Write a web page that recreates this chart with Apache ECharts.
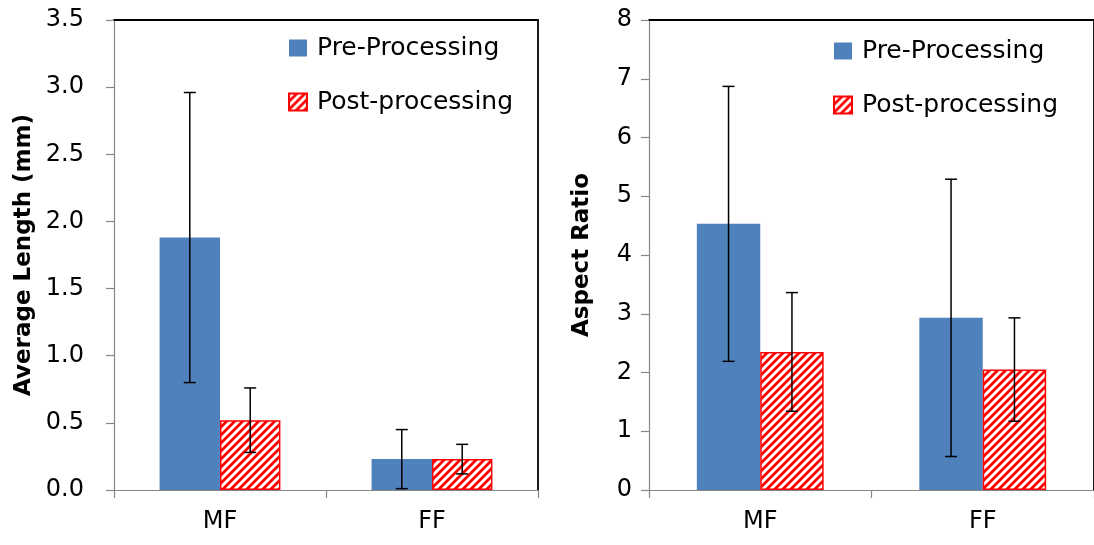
<!DOCTYPE html>
<html>
<head>
<meta charset="utf-8">
<script src="https://cdn.jsdelivr.net/npm/echarts@6/dist/echarts.min.js"></script>
<style>
html,body{margin:0;padding:0;background:#fff;}
#c{width:1094px;height:545px;}
</style>
</head>
<body>
<div id="c"></div>
<script>
// ---- data ----
const categories = ['MF', 'FF'];
const seriesNames = ['Pre-Processing', 'Post-processing'];
const lengthPre = [1.88, 0.23];
const lengthPreErr = [1.08, 0.22];
const lengthPost = [0.52, 0.23];
const lengthPostErr = [0.24, 0.11];
const aspectPre = [4.53, 2.93];
const aspectPreErr = [2.34, 2.36];
const aspectPost = [2.35, 2.05];
const aspectPostErr = [1.01, 0.88];
const lengthTicks = [0, 3.5, 0.5];   // min, max, interval
const aspectTicks = [0, 8, 1];

// ---- styling ----
const FONT = 'DejaVu Sans';
const BLUE = '#4F81BD';
const RED = '#FF0000';
const AXIS = '#868686';
const CAT_GAP = 0.43;

function makeHatch() {
  const s = 8;
  const c = document.createElement('canvas');
  c.width = s; c.height = s;
  const g = c.getContext('2d');
  g.fillStyle = '#fff';
  g.fillRect(0, 0, s, s);
  g.strokeStyle = RED;
  g.lineWidth = 2.7;
  g.beginPath();
  g.moveTo(-s, 2 * s); g.lineTo(2 * s, -s);
  g.moveTo(-s, s); g.lineTo(s, -s);
  g.moveTo(0, 2 * s); g.lineTo(2 * s, 0);
  g.stroke();
  return c;
}
const hatch = { image: makeHatch(), repeat: 'repeat' };

const chart = echarts.init(document.getElementById('c'), null, { renderer: 'canvas' });

function errData(vals, errs) {
  return vals.map((v, i) => [i, v - errs[i], v + errs[i]]);
}

function errSeries(idx, side, vals, errs) {
  return {
    type: 'custom',
    xAxisIndex: idx, yAxisIndex: idx,
    z: 10,
    silent: true,
    data: errData(vals, errs),
    renderItem: function (params, api) {
      const ci = api.value(0);
      const lo = api.coord([ci, api.value(1)]);
      const hi = api.coord([ci, api.value(2)]);
      const cw = api.size([1, 0])[0];
      const bw = cw * (1 - CAT_GAP) / 2;
      const x = lo[0] + side * bw / 2;
      const cap = 6;
      const st = { stroke: '#000', lineWidth: 1.5 };
      return {
        type: 'group',
        children: [
          { type: 'line', shape: { x1: x, y1: hi[1], x2: x, y2: lo[1] }, style: st },
          { type: 'line', shape: { x1: x - cap, y1: hi[1], x2: x + cap, y2: hi[1] }, style: st },
          { type: 'line', shape: { x1: x - cap, y1: lo[1], x2: x + cap, y2: lo[1] }, style: st }
        ]
      };
    }
  };
}

function catAxis(gi) {
  return {
    type: 'category', gridIndex: gi, data: categories,
    axisLine: { show: true, onZero: false, lineStyle: { color: AXIS, width: 1.2 } },
    axisTick: { show: true, length: 8, lineStyle: { color: AXIS, width: 1.2 } },
    axisLabel: { color: '#000', fontFamily: FONT, fontSize: 24, margin: 20 },
    splitLine: { show: false }
  };
}
function frameX(gi) {
  return {
    type: 'category', gridIndex: gi, position: 'top', data: categories,
    axisLine: { show: true, onZero: false, lineStyle: { color: '#000', width: 1.8 } },
    axisTick: { show: false }, axisLabel: { show: false }, splitLine: { show: false }
  };
}
function valAxis(gi, t, name, gap, margin, digits) {
  return {
    type: 'value', gridIndex: gi, min: t[0], max: t[1], interval: t[2],
    name: name, nameLocation: 'middle', nameGap: gap, nameRotate: 90,
    nameTextStyle: { color: '#000', fontFamily: FONT, fontSize: 23, fontWeight: 'bold' },
    axisLine: { show: true, onZero: false, lineStyle: { color: AXIS, width: 1.2 } },
    axisTick: { show: true, length: 8, lineStyle: { color: AXIS, width: 1.2 } },
    axisLabel: { color: '#000', fontFamily: FONT, fontSize: 24, margin: margin,
      formatter: v => v.toFixed(digits) },
    splitLine: { show: false }
  };
}
function frameY(gi, t) {
  return {
    type: 'value', gridIndex: gi, position: 'right', min: t[0], max: t[1], interval: t[2],
    axisLine: { show: true, onZero: false, lineStyle: { color: '#000', width: 1.8 } },
    axisTick: { show: false }, axisLabel: { show: false }, splitLine: { show: false }
  };
}
function legend(left, top) {
  return {
    orient: 'vertical', left: left, top: top, padding: 0,
    data: seriesNames, icon: 'rect', itemWidth: 18, itemHeight: 17, itemGap: 24,
    textStyle: { color: '#000', fontFamily: FONT, fontSize: 25, lineHeight: 30, padding: [0, 0, 0, 5] }
  };
}

const option = {
  animation: false,
  backgroundColor: '#fff',
  grid: [
    { left: 114, top: 20, width: 424, height: 470, containLabel: false },
    { left: 649, top: 20, width: 448, height: 470, containLabel: false }
  ],
  legend: [legend(288, 33), legend(833, 36)],
  xAxis: [catAxis(0), catAxis(1), frameX(0), frameX(1)],
  yAxis: [
    valAxis(0, lengthTicks, 'Average Length (mm)', 78, 30, 1),
    valAxis(1, aspectTicks, 'Aspect Ratio', 55, 17, 0),
    frameY(0, lengthTicks), frameY(1, aspectTicks)
  ],
  series: [
    { name: seriesNames[0], type: 'bar', xAxisIndex: 0, yAxisIndex: 0, data: lengthPre,
      barGap: '0%', barCategoryGap: '43%', itemStyle: { color: BLUE } },
    { name: seriesNames[1], type: 'bar', xAxisIndex: 0, yAxisIndex: 0, data: lengthPost,
      barGap: '0%', barCategoryGap: '43%', itemStyle: { color: hatch, borderColor: RED, borderWidth: 1.5 } },
    { name: seriesNames[0], type: 'bar', xAxisIndex: 1, yAxisIndex: 1, data: aspectPre,
      barGap: '0%', barCategoryGap: '43%', itemStyle: { color: BLUE } },
    { name: seriesNames[1], type: 'bar', xAxisIndex: 1, yAxisIndex: 1, data: aspectPost,
      barGap: '0%', barCategoryGap: '43%', itemStyle: { color: hatch, borderColor: RED, borderWidth: 1.5 } },
    errSeries(0, -1, lengthPre, lengthPreErr),
    errSeries(0, 1, lengthPost, lengthPostErr),
    errSeries(1, -1, aspectPre, aspectPreErr),
    errSeries(1, 1, aspectPost, aspectPostErr)
  ]
};
chart.setOption(option);
</script>
</body>
</html>
